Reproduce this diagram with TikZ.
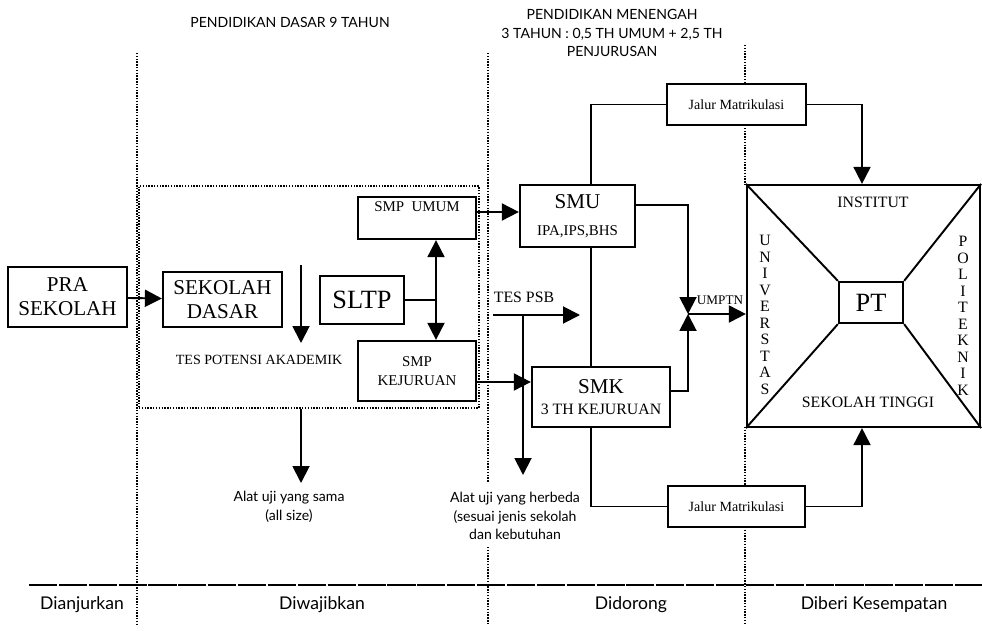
\documentclass[tikz,border=0pt]{standalone}
\usepackage{fontspec}
\setmainfont{Liberation Serif}
\newfontfamily\gill{Lato}
\usetikzlibrary{positioning, arrows.meta}

\begin{document}
\begin{tikzpicture}[x=0.02cm, y=-0.02cm,
  box/.style={draw, line width=1.3pt, inner sep=0pt, align=center},
  arr/.style={-{Triangle[length=3.4mm, width=3.4mm]}, line width=1.1pt},
  lin/.style={line width=1.1pt},
  sep/.style={line width=0.9pt, dash pattern=on 0.8pt off 0.8pt},
  hd/.style={font=\gill\fontsize{8}{10.5}\selectfont, align=center},
  bt/.style={font=\gill\fontsize{10}{12}\selectfont},
  al/.style={font=\gill\fontsize{8}{10.5}\selectfont, align=center},
  small/.style={font=\fontsize{8.5}{10.5}\selectfont, align=center}
]
  \useasboundingbox (0,0) rectangle (982,631);

  % column separators
  \draw[sep] (137,53) -- (137,625);
  \draw[sep] (488,53) -- (488,483) (488,547) -- (488,625);
  \draw[sep] (745,45) -- (745,84) (745,125) -- (745,185)
             (745,427) -- (745,486) (745,527) -- (745,625);
  \draw[line width=1.2pt, dash pattern=on 16pt off 1pt] (29,585) -- (982,585);

  % headings
  \node[hd] (hdasar) at (290,22) {PENDIDIKAN DASAR 9 TAHUN};
  \node[hd] (hmenengah) at (612,33) {PENDIDIKAN MENENGAH\\3 TAHUN : 0,5 TH UMUM + 2,5 TH\\PENJURUSAN};
  \node[bt] (anjur) at (82,605) {Dianjurkan};
  \node[bt] (wajibl) at (322,605) {Diwajibkan};
  \node[bt] (dorong) at (631,605) {Didorong};
  \node[bt] (beri) at (874,605) {Diberi Kesempatan};

  % pendidikan dasar
  \node[draw, sep, inner sep=0pt, minimum width=68mm, minimum height=44.4mm] (wajib) at (309,297) {};
  \node[box, minimum width=23.8mm, minimum height=12mm, font=\fontsize{12}{13.6}\selectfont] (pra) at (67.5,297) {PRA\\SEKOLAH};
  \node[box, minimum width=23.8mm, minimum height=11mm, font=\fontsize{12}{13.6}\selectfont] (sd) at (222.5,299.5) {SEKOLAH\\DASAR};
  \node[box, minimum width=16.8mm, minimum height=9.6mm, font=\fontsize{15}{17}\selectfont] (sltp) at (362,300) {SLTP};
  \node[box, minimum width=23.6mm, minimum height=8.4mm, small] (smpu) at (417,218) {SMP\ \ UMUM\\[2pt]};
  \node[box, minimum width=23.6mm, minimum height=12mm, small] (smpk) at (417,371) {SMP\\KEJURUAN};
  \node[font=\fontsize{8}{10}\selectfont] (tpak) at (259,360) {TES POTENSI AKADEMIK};
  \node[al] (sama) at (289,507) {Alat uji yang sama\\(all size)};

  \coordinate (tpa1) at (301,265);
  \coordinate (tpa2) at (301,343);
  \coordinate (samatip) at (301,483);
  \coordinate (j) at (436,300);

  \draw[arr] (pra) -- (sd);
  \draw[arr] (tpa1) -- (tpa2);
  \draw[lin] (sltp.east) -- (j);
  \draw[arr] (j) -- (smpu.south -| j);
  \draw[arr] (j) -- (smpk.north -| j);
  \draw[arr] (wajib.south -| tpa1) -- (samatip);

  % pendidikan menengah
  \node[box, minimum width=23mm, minimum height=12.4mm] (smu) at (577.5,216) {\fontsize{12}{14}\selectfont SMU\\[3pt]\fontsize{8.5}{10}\selectfont IPA,IPS,BHS};
  \node[box, minimum width=27.6mm, minimum height=12mm] (smk) at (601,397) {\fontsize{12}{13}\selectfont SMK\\\fontsize{9}{10}\selectfont 3 TH KEJURUAN};
  \node[box, minimum width=27.8mm, minimum height=8.2mm, font=\fontsize{8}{10}\selectfont] (jalur1) at (736.5,104.5) {Jalur Matrikulasi};
  \node[box, minimum width=27.4mm, minimum height=8.2mm, font=\fontsize{8}{10}\selectfont] (jalur2) at (736.5,506.5) {Jalur Matrikulasi};
  \node[font=\fontsize{9}{10}\selectfont] (tpsb) at (524,297) {TES PSB};
  \node[al] (beda) at (515,516) {Alat uji yang herbeda\\(sesuai jenis sekolah\\dan kebutuhan};

  \coordinate (psb1) at (493,315);
  \coordinate (psb2) at (580,315);
  \coordinate (bedatip) at (523,475);
  \coordinate (u) at (688,314);

  \draw[arr] (smpu.east |- 0,212) -- (smu.west |- 0,212);
  \draw[arr] (smpk.east |- 0,382) -- (smk.west |- 0,382);
  \draw[arr] (psb1) -- (psb2);
  \draw[arr] (bedatip |- psb1) -- (bedatip);

  % perguruan tinggi
  \node[box, minimum width=46.6mm, minimum height=48.4mm] (pt) at (863.5,306) {};
  \node[box, minimum width=12.8mm, minimum height=8.2mm, font=\fontsize{15}{17}\selectfont] (ptin) at (871,302.5) {PT};
  \draw[lin] (pt.north west) -- (ptin.north west);
  \draw[lin] (pt.north east) -- (ptin.north east);
  \draw[lin] (pt.south west) -- (ptin.south west);
  \draw[lin] (pt.south east) -- (ptin.south east);
  \node[font=\fontsize{9}{10}\selectfont] (inst) at (873,202) {INSTITUT};
  \node[font=\fontsize{9}{10}\selectfont] (stinggi) at (868,402) {SEKOLAH TINGGI};
  \node[font=\fontsize{9}{9.4}\selectfont, align=center] (univ) at (765,315) {U\\N\\I\\V\\E\\R\\S\\T\\A\\S};
  \node[font=\fontsize{9}{9.4}\selectfont, align=center] (poli) at (963,316) {P\\O\\L\\I\\T\\E\\K\\N\\I\\K};
  \node[font=\fontsize{7.5}{9}\selectfont] (umptn) at (720,300) {UMPTN};

  % jalur ke perguruan tinggi
  \draw[lin] (smu.north -| 591,0) |- (jalur1.west);
  \draw[arr] (jalur1.east) -| (pt.north -| 862,0);
  \draw[lin] (smu.south -| 591,0) -- (smk.north -| 591,0);
  \draw[lin] (smk.south -| 591,0) |- (jalur2.west);
  \draw[arr] (jalur2.east) -| (pt.south -| 862,0);
  \draw[arr] (smu.east |- 0,205) -| (u);
  \draw[arr] (smk.east |- 0,391) -| (u);
  \draw[arr] (u) -- (pt.west |- u);
\end{tikzpicture}
\end{document}
